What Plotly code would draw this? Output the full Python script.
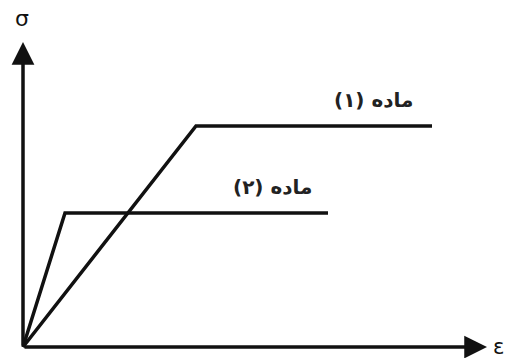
import plotly.graph_objects as go

# Material curves (strain, stress) in arbitrary units
mat1_strain = [0, 173, 409]
mat1_stress = [0, 221, 221]
mat2_strain = [0, 42, 305]
mat2_stress = [0, 134, 134]
label1 = "<b>ماده (۱)</b>"
label2 = "<b>ماده (۲)</b>"
label1_pos = (350, 247)
label2_pos = (249, 160)

fig = go.Figure()
fig.add_trace(go.Scatter(x=mat1_strain, y=mat1_stress, mode="lines",
                         line=dict(color="#111111", width=3.5), showlegend=False))
fig.add_trace(go.Scatter(x=mat2_strain, y=mat2_stress, mode="lines",
                         line=dict(color="#111111", width=3.5), showlegend=False))

# axes arrows
fig.add_annotation(x=0, y=305, ax=0, ay=0, xref="x", yref="y", axref="x", ayref="y",
                   showarrow=True, arrowhead=2, arrowsize=1.3, arrowwidth=3.5,
                   arrowcolor="#111111", text="", standoff=0)
fig.add_annotation(x=464, y=0, ax=0, ay=0, xref="x", yref="y", axref="x", ayref="y",
                   showarrow=True, arrowhead=2, arrowsize=1.3, arrowwidth=3.5,
                   arrowcolor="#111111", text="", standoff=0)

fig.add_annotation(x=-1, y=329, text="σ", showarrow=False,
                   font=dict(family="DejaVu Sans", size=22, color="#111111"))
fig.add_annotation(x=475, y=0, text="ε", showarrow=False,
                   font=dict(family="DejaVu Sans", size=21, color="#111111"))
fig.add_annotation(x=label1_pos[0], y=label1_pos[1], text=label1, showarrow=False,
                   font=dict(family="DejaVu Sans", size=20, color="#222222"))
fig.add_annotation(x=label2_pos[0], y=label2_pos[1], text=label2, showarrow=False,
                   font=dict(family="DejaVu Sans", size=20, color="#222222"))

fig.update_xaxes(range=[-23, 490], visible=False, fixedrange=True)
fig.update_yaxes(range=[-11, 347], visible=False, fixedrange=True)
fig.update_layout(width=513, height=358, margin=dict(l=0, r=0, t=0, b=0),
                  paper_bgcolor="white", plot_bgcolor="white")
fig.write_html("out.html", config={"displayModeBar": False},
               post_script="document.body.style.margin='0';document.body.style.overflow='hidden';")
